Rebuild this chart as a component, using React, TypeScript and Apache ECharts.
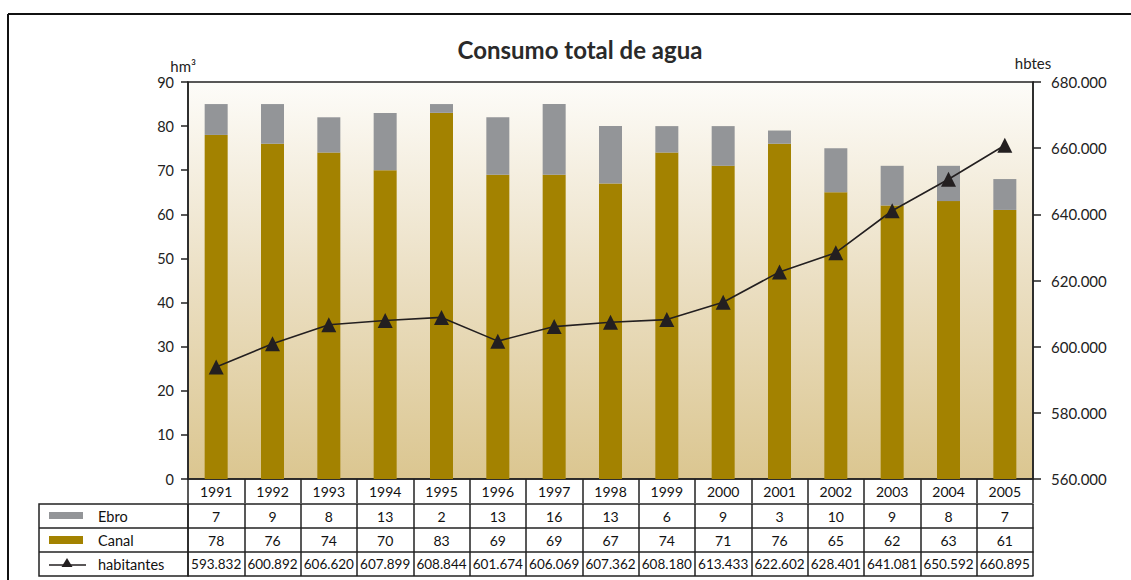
import React, { useEffect, useRef } from "react";
import * as echarts from "echarts";

const years = ["1991","1992","1993","1994","1995","1996","1997","1998","1999","2000","2001","2002","2003","2004","2005"];
const ebro = [7, 9, 8, 13, 2, 13, 16, 13, 6, 9, 3, 10, 9, 8, 7];
const canal = [78, 76, 74, 70, 83, 69, 69, 67, 74, 71, 76, 65, 62, 63, 61];
const habitantes = [593832, 600892, 606620, 607899, 608844, 601674, 606069, 607362, 608180, 613433, 622602, 628401, 641081, 650592, 660895];
const seriesNames = ["Ebro", "Canal", "habitantes"];

const FONT = "Lato, 'Open Sans', sans-serif";
const fmtThousands = (n: number) => {
  const t = Math.floor(n / 1000);
  const r = String(Math.round(n % 1000)).padStart(3, "0");
  return `${t}.${r}`;
};

export default function App() {
  const ref = useRef<HTMLDivElement>(null);
  useEffect(() => {
    if (!ref.current) return;
    const chart = echarts.init(ref.current, undefined, { renderer: "svg" });
    const gridLeft = 188, gridRight = 1033, gridTop = 82, gridBottom = 479;
    const lineColor = "#222";
    const tableAxis = (offset: number, labels: (string | number)[] | null, fontSize = 14) => ({
      type: "category",
      data: years,
      position: "bottom",
      offset,
      gridIndex: 0,
      axisLine: { show: true, lineStyle: { color: lineColor, width: 1.5 } },
      axisTick: labels ? { show: true, length: 24, interval: 0, inside: false, lineStyle: { color: lineColor, width: 1.5 } } : { show: false },
      axisLabel: labels
        ? { show: true, interval: 0, margin: 5, fontSize, fontFamily: FONT, color: "#111", formatter: (_v: string, i: number) => String(labels[i]) }
        : { show: false },
      splitLine: { show: false },
    });
    const option: any = {
      animation: false,
      backgroundColor: "#fff",
      title: {
        text: "Consumo total de agua",
        left: 575,
        top: 32,
        textAlign: "center",
        textStyle: { fontFamily: FONT, fontWeight: "bold", fontSize: 24, color: "#2a2a2a" },
      },
      grid: {
        left: gridLeft,
        top: gridTop,
        width: gridRight - gridLeft,
        height: gridBottom - gridTop,
        show: true,
        borderColor: lineColor,
        borderWidth: 1.5,
        backgroundColor: {
          type: "linear", x: 0, y: 0, x2: 0, y2: 1,
          colorStops: [
            { offset: 0, color: "#fdfcf9" },
            { offset: 0.5, color: "#ebdfc3" },
            { offset: 1, color: "#dbc690" },
          ],
        },
      },
      xAxis: [
        tableAxis(0, years, 14),
        tableAxis(25, ebro, 14),
        tableAxis(49, canal, 14),
        tableAxis(73, habitantes.map(fmtThousands), 13.5),
        tableAxis(97, null),
      ],
      yAxis: [
        {
          type: "value",
          min: 0,
          max: 90,
          interval: 10,
          position: "left",
          name: "hm³",
          nameLocation: "end",
          nameGap: 9,
          nameTextStyle: { fontFamily: FONT, fontSize: 15, color: "#222", align: "right", padding: [0, -8, 0, 0] },
          axisLine: { show: true, lineStyle: { color: lineColor, width: 1.5 } },
          axisTick: { show: true, length: 7, lineStyle: { color: lineColor, width: 1.5 } },
          axisLabel: { fontFamily: FONT, fontSize: 14.5, color: "#222", margin: 14 },
          splitLine: { show: false },
        },
        {
          type: "value",
          min: 560000,
          max: 680000,
          interval: 20000,
          position: "right",
          name: "hbtes",
          nameLocation: "end",
          nameGap: 12,
          nameTextStyle: { fontFamily: FONT, fontSize: 15, color: "#222" },
          axisLine: { show: true, lineStyle: { color: lineColor, width: 1.5 } },
          axisTick: { show: true, length: 8, lineStyle: { color: lineColor, width: 1.5 } },
          axisLabel: { fontFamily: FONT, fontSize: 15, color: "#222", margin: 18, formatter: (v: number) => fmtThousands(v) },
          splitLine: { show: false },
        },
      ],
      series: [
        {
          name: seriesNames[1],
          type: "bar",
          stack: "total",
          xAxisIndex: 0,
          yAxisIndex: 0,
          barWidth: 23,
          data: canal,
          itemStyle: { color: "#a38200" },
        },
        {
          name: seriesNames[0],
          type: "bar",
          stack: "total",
          xAxisIndex: 0,
          yAxisIndex: 0,
          barWidth: 23,
          data: ebro,
          itemStyle: { color: "#939598" },
        },
        {
          name: seriesNames[2],
          type: "line",
          xAxisIndex: 0,
          yAxisIndex: 1,
          data: habitantes,
          symbol: "triangle",
          symbolSize: 15,
          z: 5,
          itemStyle: { color: "#231f20" },
          lineStyle: { color: "#231f20", width: 1.6 },
        },
      ],
      graphic: [
        { type: "line", shape: { x1: 8, y1: 14, x2: 1131, y2: 14 }, style: { stroke: "#111", lineWidth: 2 } },
        { type: "line", shape: { x1: 8, y1: 14, x2: 8, y2: 580 }, style: { stroke: "#111", lineWidth: 2 } },
        { type: "rect", shape: { x: 39, y: 504, width: 149, height: 72 }, style: { fill: "#fff", stroke: lineColor, lineWidth: 1.5 } },
        { type: "line", shape: { x1: 39, y1: 528, x2: 188, y2: 528 }, style: { stroke: lineColor, lineWidth: 1.5 } },
        { type: "line", shape: { x1: 39, y1: 552, x2: 188, y2: 552 }, style: { stroke: lineColor, lineWidth: 1.5 } },
        { type: "rect", shape: { x: 49, y: 512, width: 34, height: 7 }, style: { fill: "#939598" } },
        { type: "rect", shape: { x: 49, y: 536, width: 34, height: 8 }, style: { fill: "#a38200" } },
        { type: "line", shape: { x1: 49, y1: 565, x2: 86, y2: 565 }, style: { stroke: "#231f20", lineWidth: 1.5 } },
        { type: "polygon", shape: { points: [[67, 558], [61.5, 567], [72.5, 567]] }, style: { fill: "#231f20" } },
        { type: "text", x: 98, y: 516, style: { text: seriesNames[0], fontFamily: FONT, fontSize: 14.5, fill: "#111", verticalAlign: "middle" } },
        { type: "text", x: 98, y: 540, style: { text: seriesNames[1], fontFamily: FONT, fontSize: 14.5, fill: "#111", verticalAlign: "middle" } },
        { type: "text", x: 98, y: 564, style: { text: seriesNames[2], fontFamily: FONT, fontSize: 14.5, fill: "#111", verticalAlign: "middle" } },
      ],
    };
    chart.setOption(option);
    return () => chart.dispose();
  }, []);
  return <div ref={ref} style={{ position: "absolute", left: 0, top: 0, width: 1131, height: 580 }} />;
}
